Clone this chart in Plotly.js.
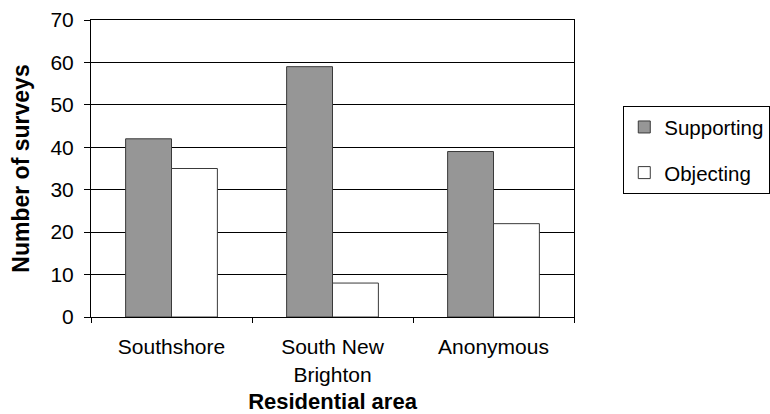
<!DOCTYPE html>
<html>
<head>
<meta charset="utf-8">
<script src="https://cdn.plot.ly/plotly-3.0.1.min.js"></script>
<style>
  html, body { margin: 0; padding: 0; background: #fff; }
  #chart { width: 770px; height: 414px; }
</style>
</head>
<body>
<div id="chart"></div>
<script>
// Survey responses by residential area
const areas = ['Southshore', 'South New Brighton', 'Anonymous'];
const areaLabels = ['Southshore', 'South New<br>Brighton', 'Anonymous'];
const supporting = [42, 59, 39];
const objecting = [35, 8, 22];
const yTicks = [0, 10, 20, 30, 40, 50, 60, 70];

const FONT = 'Arial, "Liberation Sans", sans-serif';

const traces = [
  {
    type: 'bar',
    name: 'Supporting',
    x: areas,
    y: supporting,
    legendgroup: 'a',
    marker: { color: '#969696', line: { color: '#3a3a3a', width: 1 } },
    hoverinfo: 'x+y+name'
  },
  {
    type: 'bar',
    name: 'Objecting',
    x: areas,
    y: objecting,
    legendgroup: 'b',
    marker: { color: '#ffffff', line: { color: '#3a3a3a', width: 1 } },
    hoverinfo: 'x+y+name'
  }
];

const layout = {
  width: 770,
  height: 414,
  margin: { l: 91, r: 196, t: 20, b: 97, autoexpand: false },
  paper_bgcolor: '#ffffff',
  plot_bgcolor: '#ffffff',
  font: { family: FONT, size: 21, color: '#000' },
  barmode: 'group',
  bargap: 0.43,
  bargroupgap: 0,
  showlegend: true,
  legend: {
    x: 1.102, xanchor: 'left',
    y: 0.71, yanchor: 'top',
    bordercolor: '#000', borderwidth: 1,
    bgcolor: '#fff',
    traceorder: 'grouped',
    tracegroupgap: 16,
    font: { family: FONT, size: 20.5 }
  },
  xaxis: {
    type: 'category',
    tickmode: 'array',
    tickvals: areas,
    ticktext: areaLabels,
    tickson: 'boundaries',
    ticks: 'outside',
    ticklen: 5,
    tickcolor: '#000',
    showline: true,
    linecolor: '#000',
    linewidth: 1,
    mirror: true,
    showgrid: false,
    ticklabelstandoff: 11,
    title: {
      text: '<b>Residential area</b>',
      font: { family: FONT, size: 22 },
      standoff: 15
    }
  },
  yaxis: {
    range: [0, 70],
    tickmode: 'array',
    tickvals: yTicks,
    ticks: 'outside',
    ticklen: 6,
    tickcolor: '#000',
    showline: true,
    linecolor: '#000',
    linewidth: 1,
    mirror: true,
    showgrid: true,
    gridcolor: '#000',
    gridwidth: 1,
    zeroline: false,
    ticklabelstandoff: 6,
    title: {
      text: '<b>Number of surveys</b>',
      font: { family: FONT, size: 23 },
      standoff: 14
    }
  }
};

Plotly.newPlot('chart', traces, layout, { displayModeBar: false, staticPlot: true });
</script>
</body>
</html>
